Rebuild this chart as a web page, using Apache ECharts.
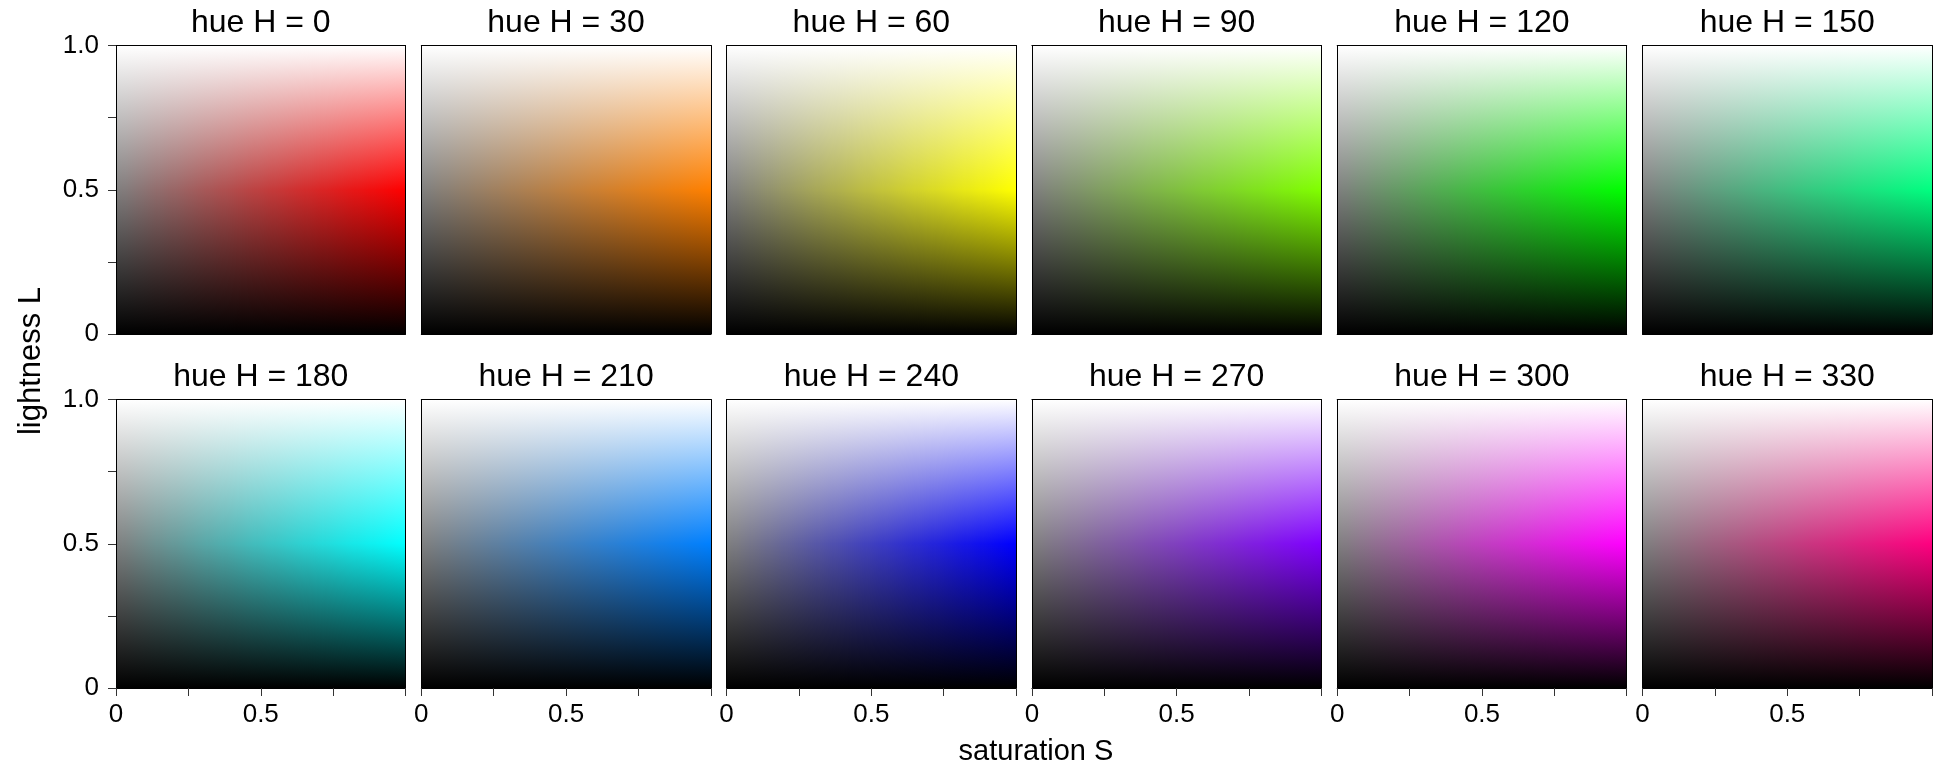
<!DOCTYPE html>
<html>
<head>
<meta charset="utf-8">
<script src="https://cdn.jsdelivr.net/npm/echarts@6/dist/echarts.min.js"></script>
<style>
  html, body { margin: 0; padding: 0; background: #fff; }
  #chart { width: 1936px; height: 770px; }
</style>
</head>
<body>
<div id="chart"></div>
<script>
// ---- data ----
const hues = [0, 30, 60, 90, 120, 150, 180, 210, 240, 270, 300, 330];
const panelTitles = hues.map(h => 'hue H = ' + h);
const yTickText = { '0': '0', '0.5': '0.5', '1': '1.0' };
const xTickText = { '0': '0', '0.5': '0.5' };
const xAxisTitle = 'saturation S';
const yAxisTitle = 'lightness L';
const satSteps = 145; // sampling resolution of the saturation axis

// ---- helpers ----
function hslToRgb(h, s, l) {
  const c = (1 - Math.abs(2 * l - 1)) * s;
  const hp = (h % 360) / 60;
  const x = c * (1 - Math.abs((hp % 2) - 1));
  let r = 0, g = 0, b = 0;
  if (hp < 1) { r = c; g = x; }
  else if (hp < 2) { r = x; g = c; }
  else if (hp < 3) { g = c; b = x; }
  else if (hp < 4) { g = x; b = c; }
  else if (hp < 5) { r = x; b = c; }
  else { r = c; b = x; }
  const m = l - c / 2;
  const f = v => Math.round(Math.min(1, Math.max(0, v + m)) * 255);
  return 'rgb(' + f(r) + ',' + f(g) + ',' + f(b) + ')';
}

const satColumns = [];
for (let i = 0; i < satSteps; i++) {
  satColumns.push([i / satSteps, (i + 1) / satSteps, (i + 0.5) / satSteps]);
}

const FONT = 'Liberation Sans, Arial, Helvetica, sans-serif';
const colLeft0 = 116, colStep = 305.3, panelW = 289.5;
const rowTops = [45.5, 399.5], panelH = 288.5;

const grids = [], xAxes = [], yAxes = [], series = [];
const lineStyle = { color: '#000', width: 1 };

hues.forEach((hue, k) => {
  const r = Math.floor(k / 6), c = k % 6;
  grids.push({
    left: colLeft0 + c * colStep, top: rowTops[r], width: panelW, height: panelH,
    containLabel: false, outerBoundsMode: 'none', show: false
  });
  // bottom x axis
  xAxes.push({
    type: 'value', gridIndex: k, min: 0, max: 1, interval: 0.25, position: 'bottom', z: 5,
    axisLine: { show: true, onZero: false, lineStyle },
    axisTick: { show: r === 1, length: 8, lineStyle: { color: '#333', width: 1 } },
    axisLabel: {
      show: r === 1, margin: 14, fontSize: 26, color: '#000', fontFamily: FONT,
      showMinLabel: true, showMaxLabel: true,
      formatter: v => (xTickText[String(v)] !== undefined ? xTickText[String(v)] : '')
    },
    splitLine: { show: false }
  });
  // top x axis (border + panel title)
  xAxes.push({
    type: 'value', gridIndex: k, min: 0, max: 1, position: 'top', z: 5,
    axisLine: { show: true, onZero: false, lineStyle },
    axisTick: { show: false }, axisLabel: { show: false }, splitLine: { show: false },
    name: panelTitles[k], nameLocation: 'middle', nameGap: 6,
    nameTextStyle: { fontSize: 32, color: '#000', fontFamily: FONT }
  });
  // left y axis
  yAxes.push({
    type: 'value', gridIndex: k, min: 0, max: 1, interval: 0.25, position: 'left', z: 5,
    axisLine: { show: true, onZero: false, lineStyle },
    axisTick: { show: c === 0, length: 8, lineStyle: { color: '#333', width: 1 } },
    axisLabel: {
      show: c === 0, margin: 17, fontSize: 26, color: '#000', fontFamily: FONT,
      showMinLabel: true, showMaxLabel: true,
      formatter: v => (yTickText[String(v)] !== undefined ? yTickText[String(v)] : '')
    },
    splitLine: { show: false }
  });
  // right y axis (border)
  yAxes.push({
    type: 'value', gridIndex: k, min: 0, max: 1, position: 'right', z: 5,
    axisLine: { show: true, onZero: false, lineStyle },
    axisTick: { show: false }, axisLabel: { show: false }, splitLine: { show: false }
  });

  series.push({
    type: 'custom',
    xAxisIndex: 2 * k, yAxisIndex: 2 * k,
    data: satColumns,
    silent: true,
    renderItem: function (params, api) {
      const s0 = api.value(0), s1 = api.value(1), sm = api.value(2);
      const pTop = api.coord([s0, 1]);
      const pBot = api.coord([s1, 0]);
      const x0 = Math.round(pTop[0]);
      const x1 = Math.round(pBot[0]);
      if (x1 <= x0) return null;
      return {
        type: 'rect',
        shape: { x: x0, y: pTop[1], width: x1 - x0, height: pBot[1] - pTop[1] },
        style: {
          fill: new echarts.graphic.LinearGradient(0, 0, 0, 1, [
            { offset: 0, color: hslToRgb(hue, sm, 1) },
            { offset: 0.5, color: hslToRgb(hue, sm, 0.5) },
            { offset: 1, color: hslToRgb(hue, sm, 0) }
          ])
        }
      };
    }
  });
});

const chart = echarts.init(document.getElementById('chart'), null, { renderer: 'canvas' });
chart.setOption({
  animation: false,
  backgroundColor: '#fff',
  grid: grids,
  xAxis: xAxes,
  yAxis: yAxes,
  series: series,
  graphic: [
    {
      type: 'text', x: 1036, y: 752,
      style: { text: xAxisTitle, font: '29px ' + FONT, fill: '#000', textAlign: 'center', textVerticalAlign: 'middle' }
    },
    {
      type: 'text', x: 31.5, y: 361, rotation: Math.PI / 2,
      style: { text: yAxisTitle, font: '31px ' + FONT, fill: '#000', textAlign: 'center', textVerticalAlign: 'middle' }
    }
  ]
});
</script>
</body>
</html>
